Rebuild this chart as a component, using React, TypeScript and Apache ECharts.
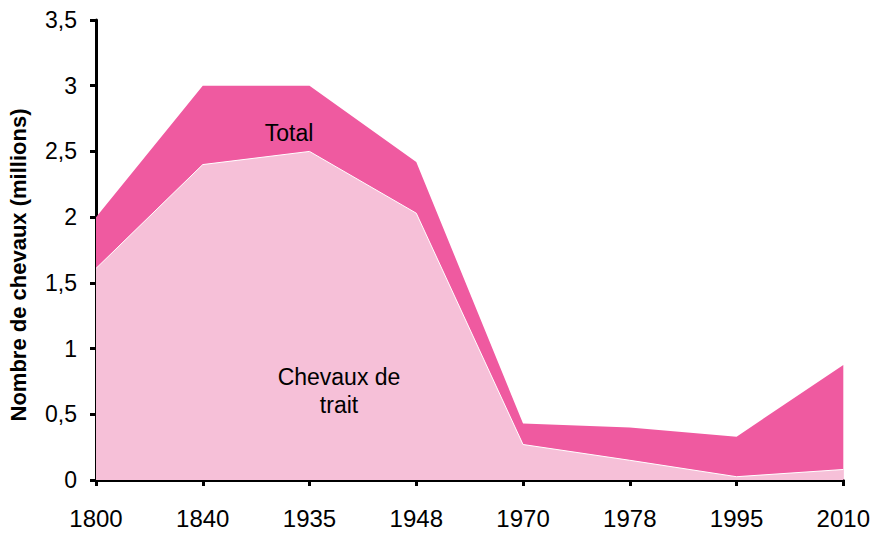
import React, { useEffect, useRef } from "react";
import * as echarts from "echarts";

const years = ["1800", "1840", "1935", "1948", "1970", "1978", "1995", "2010"];
const totalValues = [2.0, 3.0, 3.0, 2.42, 0.43, 0.4, 0.33, 0.875];
const traitValues = [1.61, 2.4, 2.5, 2.03, 0.27, 0.15, 0.025, 0.08];
const yTicks = [0, 0.5, 1, 1.5, 2, 2.5, 3, 3.5];

const FONT = "'Liberation Sans', Arial, sans-serif";

export default function App() {
  const ref = useRef<HTMLDivElement>(null);
  useEffect(() => {
    if (!ref.current) return;
    const chart = echarts.init(ref.current, undefined, { renderer: "svg" });
    chart.setOption({
      animation: false,
      backgroundColor: "#ffffff",
      grid: { left: 96, right: 25, top: 20, bottom: 54, containLabel: false },
      xAxis: {
        type: "category",
        data: years,
        boundaryGap: false,
        axisLine: { lineStyle: { color: "#000", width: 3 } },
        axisTick: { show: true, length: 6, lineStyle: { color: "#000", width: 3 } },
        axisLabel: { color: "#000", fontSize: 24, fontFamily: FONT, margin: 26 },
        splitLine: { show: false },
      },
      yAxis: {
        type: "value",
        min: 0,
        max: 3.5,
        interval: 0.5,
        axisLine: { show: true, lineStyle: { color: "#000", width: 3 } },
        axisTick: { show: true, length: 6, lineStyle: { color: "#000", width: 3 } },
        axisLabel: {
          color: "#000",
          fontSize: 23,
          fontFamily: FONT,
          margin: 19,
          formatter: (v: number) => (yTicks.includes(v) ? String(v).replace(".", ",") : ""),
        },
        splitLine: { show: false },
      },
      series: [
        {
          name: "Total",
          type: "line",
          data: totalValues,
          symbol: "none",
          lineStyle: { width: 0, color: "#EF5AA0" },
          areaStyle: { color: "#EF5AA0", opacity: 1 },
          z: 1,
        },
        {
          name: "Chevaux de trait",
          type: "line",
          data: traitValues,
          symbol: "none",
          lineStyle: { width: 1, color: "#ffffff" },
          areaStyle: { color: "#F6C0D8", opacity: 1 },
          z: 2,
        },
      ],
      graphic: [
        {
          type: "text",
          x: 18,
          y: 265,
          rotation: Math.PI / 2,
          z: 10,
          style: {
            text: "Nombre de chevaux (millions)",
            fontSize: 22,
            fontWeight: "bold",
            fontFamily: FONT,
            fill: "#000",
            align: "center",
            verticalAlign: "middle",
          },
        },
        {
          type: "text",
          x: 289,
          y: 133,
          z: 10,
          style: {
            text: "Total",
            fontSize: 23,
            fontFamily: FONT,
            fill: "#000",
            align: "center",
            verticalAlign: "middle",
          },
        },
        {
          type: "text",
          x: 339,
          y: 391,
          z: 10,
          style: {
            text: "Chevaux de\ntrait",
            fontSize: 23,
            fontFamily: FONT,
            fill: "#000",
            align: "center",
            verticalAlign: "middle",
            lineHeight: 28,
          },
        },
      ],
    });
    return () => chart.dispose();
  }, []);
  return <div ref={ref} style={{ width: 873, height: 534, position: "absolute", left: 0, top: 0 }} />;
}
